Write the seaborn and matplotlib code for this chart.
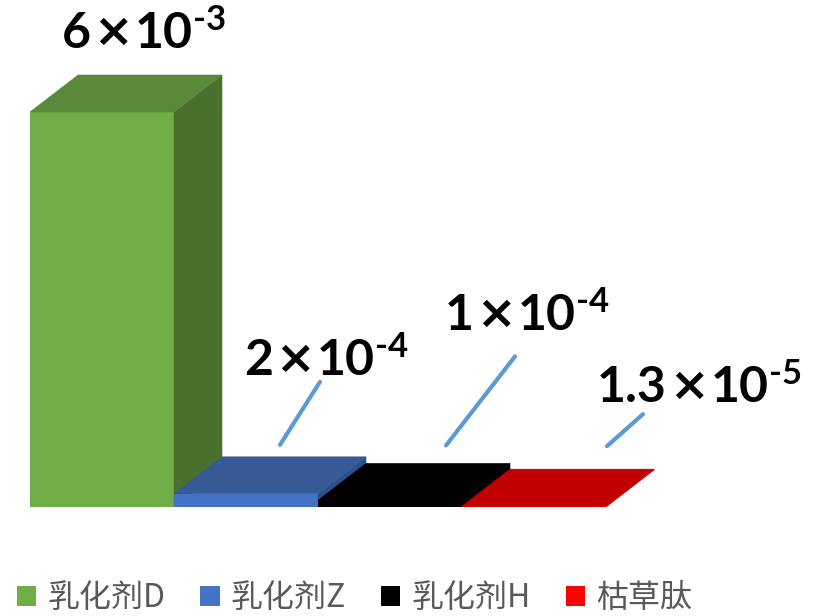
import numpy as np
import pandas as pd
import seaborn as sns
import matplotlib.pyplot as plt
from matplotlib.patches import Polygon, Patch
from matplotlib.transforms import ScaledTranslation

# --- data -------------------------------------------------------------
categories = ["乳化剂D", "乳化剂Z", "乳化剂H", "枯草肽"]
values = [6e-3, 2e-4, 1e-4, 1.3e-5]

# --- styling ----------------------------------------------------------
front_colors = ["#70AD47", "#4472C4", "#000000", "#FF0000"]
top_colors = ["#5A8A39", "#355A96", "#000000", "#C00000"]
side_colors = ["#4A702E", "#2F4F88", "#000000", "#A00000"]
legend_colors = ["#70AD47", "#4472C4", "#000000", "#FF0000"]

# label placement (left/baseline of text), offset in px from bar top centre
label_offsets = [(-40, 64), (-2, 119), (55, 170), (63, 104)]
# leader line ends, offsets in px from bar top centre
leader_offsets = [None, ((34, 49), (74, 112)), ((56, 55), (125, 144)), ((73, 60), (109, 92))]

DPI = 100
W, H = 822, 616
# plot area in pixels (left, right, top, bottom)
PL, PR, PT, PB = 30, 606, 112, 507
DEPTH_PX = (48, 37)

sns.set_theme(style="white")
plt.rcParams["font.family"] = ["Noto Sans CJK SC", "DejaVu Sans"]

fig = plt.figure(figsize=(W / DPI, H / DPI), dpi=DPI)
ax = fig.add_axes([PL / W, (H - PB) / H, (PR - PL) / W, (PB - PT) / H])

df = pd.DataFrame({"cat": categories, "val": values})
sns.barplot(data=df, x="cat", y="val", hue="cat", palette=front_colors,
            width=1.0, saturation=1, errorbar=None, legend=False,
            linewidth=0, ax=ax)

ymax = max(values)
ax.set_xlim(-0.5, len(categories) - 0.5)
ax.set_ylim(0, ymax)
ax.set_axis_off()

# depth of the pseudo-3D boxes in data units
ddx = DEPTH_PX[0] / ((PR - PL) / len(categories))
ddy = DEPTH_PX[1] / (PB - PT) * ymax

for i, (patch, v) in enumerate(zip(ax.patches, values)):
    patch.set_zorder(10 + i)
    x0, x1 = i - 0.5, i + 0.5
    side = Polygon([(x1, 0), (x1, v), (x1 + ddx, v + ddy), (x1 + ddx, ddy)],
                   closed=True, fc=side_colors[i], ec=side_colors[i], lw=0.4,
                   zorder=10 + i, clip_on=False)
    top = Polygon([(x0, v), (x1, v), (x1 + ddx, v + ddy), (x0 + ddx, v + ddy)],
                  closed=True, fc=top_colors[i], ec=top_colors[i], lw=0.4,
                  zorder=10 + i, clip_on=False)
    ax.add_patch(side)
    ax.add_patch(top)

px2pt = 72 / DPI
num_font = ["Lato", "DejaVu Sans"]
times_font = ["DejaVu Sans"]


def piece(text, prev, v, dx_pt, base_pt, size, family):
    """Place a text piece on the label baseline, right after `prev`."""
    kw = dict(ha="left", va="baseline", fontsize=size, fontweight="bold",
              family=family, color="black", zorder=30, annotation_clip=False)
    return ax.annotate(text, xy=(1, v), xycoords=(prev, "data"),
                       xytext=(dx_pt, base_pt), textcoords="offset points", **kw)


for i, v in enumerate(values):
    exp = int(np.floor(np.log10(v)))
    mant = f"{v / 10 ** exp:.2g}"
    lx, ly = label_offsets[i]
    base = ly * px2pt
    t_mant = ax.annotate(mant, xy=(i, v), xycoords="data",
                         xytext=(lx * px2pt, base), textcoords="offset points",
                         ha="left", va="baseline", fontsize=36, fontweight="bold",
                         family=num_font, color="black", zorder=30,
                         annotation_clip=False)
    t_x = piece("×", t_mant, v, 1.5, base + 1.5, 34, times_font)
    t_ten = piece("10", t_x, v, 1.5, base, 36, num_font)
    piece(f"{exp}", t_ten, v, 0.5, base + 13, 25, num_font)

    if leader_offsets[i] is not None:
        (sx, sy), (ex, ey) = leader_offsets[i]
        start = ax.transData + ScaledTranslation(sx / DPI, sy / DPI, fig.dpi_scale_trans)
        ax.annotate("", xy=(i, v), xycoords=start,
                    xytext=((ex - sx) * px2pt, (ey - sy) * px2pt),
                    textcoords="offset points",
                    arrowprops=dict(arrowstyle="-", color="#5B9BD5", lw=3,
                                    shrinkA=0, shrinkB=0),
                    annotation_clip=False, zorder=30)

handles = [Patch(facecolor=c, edgecolor="none") for c in legend_colors]
leg = fig.legend(handles, categories, ncol=4, loc="center left",
                 bbox_to_anchor=(17 / W, (H - 598) / H), frameon=False,
                 fontsize=23, handlelength=0.6, handleheight=0.6,
                 handletextpad=0.35, columnspacing=1.1,
                 borderpad=0, borderaxespad=0)
for t in leg.get_texts():
    t.set_color("#595959")

fig.savefig("out.png", dpi=DPI)
